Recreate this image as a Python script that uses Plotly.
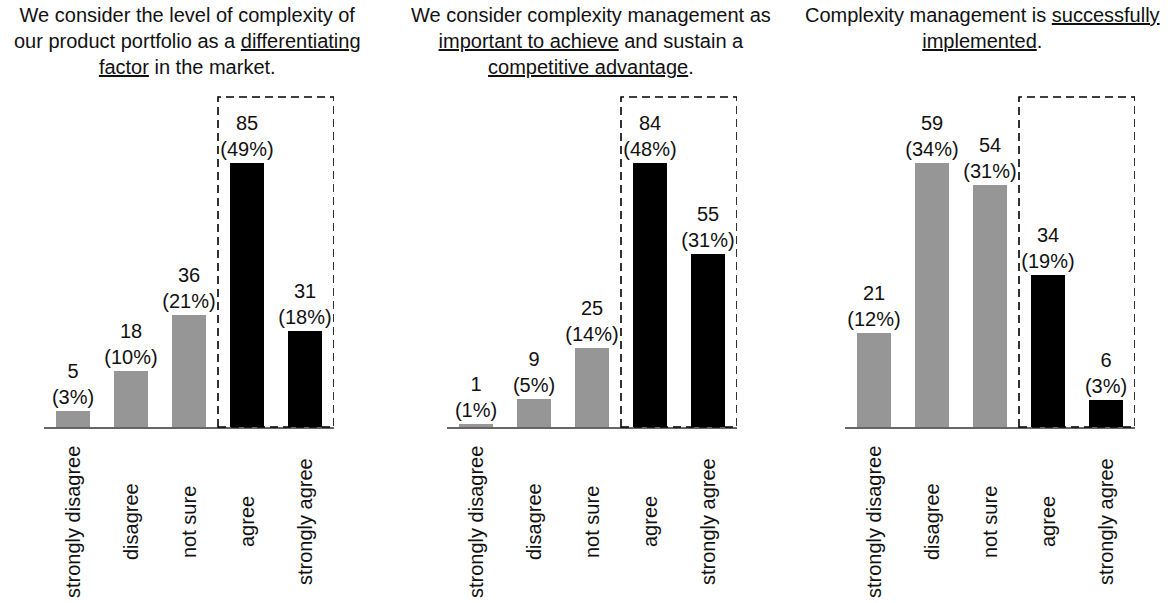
import plotly.graph_objects as go

W, H = 1168, 603

categories = ["strongly disagree", "disagree", "not sure", "agree", "strongly agree"]

titles = [
    "We consider the level of complexity of<br>our product portfolio as a <u>differentiating</u><br><u>factor</u> in the market.",
    "We consider complexity management as<br><u>important to achieve</u> and sustain a<br><u>competitive advantage</u>.",
    "Complexity management is <u>successfully</u><br><u>implemented</u>.",
]

counts_1 = [5, 18, 36, 85, 31]
pct_1 = [3, 10, 21, 49, 18]
counts_2 = [1, 9, 25, 84, 55]
pct_2 = [1, 5, 14, 48, 31]
counts_3 = [21, 59, 54, 34, 6]
pct_3 = [12, 34, 31, 19, 3]

series = [(counts_1, pct_1), (counts_2, pct_2), (counts_3, pct_3)]

bar_colors = ["#969696", "#969696", "#969696", "#000000", "#000000"]

# pixel layout of panels
x_px = [(44, 334), (447, 737), (845, 1135)]
title_cx = [187, 591, 983]
y_bottom_px, y_top_px = 427, 97

FONT = "Liberation Sans, Arial, sans-serif"

fig = go.Figure()
for i, ((cnt, pct), (x0, x1)) in enumerate(zip(series, x_px)):
    n = "" if i == 0 else str(i + 1)
    fig.add_trace(go.Bar(
        x=list(range(len(categories))), y=cnt,
        marker=dict(color=bar_colors, line=dict(width=0)),
        width=0.57,
        text=[f"{c}<br>({p}%)" for c, p in zip(cnt, pct)],
        textposition="outside",
        constraintext="none",
        textfont=dict(family=FONT, size=20, color="#111111"),
        cliponaxis=False,
        xaxis="x" + n, yaxis="y" + n,
        showlegend=False,
    ))
    fig.layout["xaxis" + n] = dict(
        domain=[x0 / W, x1 / W], range=[-0.5, 4.5],
        showticklabels=False, showgrid=False, zeroline=False,
        showline=True, linecolor="#666666", linewidth=2,
        anchor="y" + n, fixedrange=True,
    )
    fig.layout["yaxis" + n] = dict(
        domain=[1 - y_bottom_px / H, 1 - y_top_px / H],
        range=[0, max(cnt) * 1.25],
        visible=False, anchor="x" + n,
    )
    # dashed box around agree / strongly agree
    fig.add_shape(
        type="rect", xref="x" + n, yref=("y" + n) + " domain",
        x0=2.5, x1=4.5, y0=0, y1=1,
        line=dict(color="#000000", width=1.6, dash="8px,5px"),
        fillcolor="rgba(0,0,0,0)",
    )
    # category labels
    for k, cat in enumerate(categories):
        fig.add_annotation(
            x=k, xref="x" + n, y=1 - 522 / H, yref="paper",
            text=cat, textangle=-90, showarrow=False,
            xanchor="center", yanchor="middle",
            font=dict(family=FONT, size=20, color="#111111"),
        )
    # title
    fig.add_annotation(
        x=title_cx[i] / W, xref="paper", y=1 - 2 / H, yref="paper",
        text=titles[i], showarrow=False, xanchor="center", yanchor="top",
        align="center",
        font=dict(family=FONT, size=20, color="#111111"),
    )

fig.update_layout(
    width=W, height=H,
    margin=dict(l=0, r=0, t=0, b=0),
    paper_bgcolor="white", plot_bgcolor="white",
    bargap=0,
)

fig.write_html("out.html")
